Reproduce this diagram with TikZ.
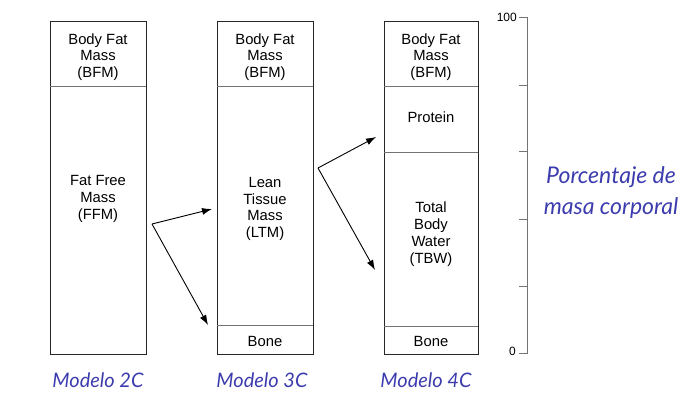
\documentclass[tikz,border=0pt]{standalone}
\usepackage{fontspec}
\setmainfont{Liberation Sans}
\newfontfamily\handfont{Lato Italic}
\usetikzlibrary{arrows.meta}
\definecolor{hand}{RGB}{60,60,175}
\begin{document}
\begin{tikzpicture}[x=1pt,y=-1pt,
  col/.style={draw=black!85,line width=0.9pt},
  divider/.style={draw=black!55,line width=0.6pt},
  lbl/.style={align=center,font=\fontsize{14.8}{16.8}\selectfont,inner sep=0pt},
  hlbl/.style={font=\handfont\fontsize{20}{22}\selectfont,text=hand,inner sep=0pt},
  plbl/.style={font=\handfont\fontsize{23}{25}\selectfont,text=hand,inner sep=0pt},
  arr/.style={draw=black,line width=0.9pt,-{Latex[length=10pt,width=7pt]}},
  tick/.style={draw=black!55,line width=0.6pt}]
\useasboundingbox (0,0) rectangle (699,395);
% columns
\draw[col] (50,21) rectangle (146,354);
\draw[divider] (50,86) -- (146,86);
\draw[col] (217,21) rectangle (313,354);
\draw[divider] (217,86) -- (313,86);
\draw[divider] (217,325) -- (313,325);
\draw[col] (384,21) rectangle (478,354);
\draw[divider] (384,86) -- (478,86);
\draw[divider] (384,152) -- (478,152);
\draw[divider] (384,326) -- (478,326);
% texts
\node[lbl] (bfm1) at (98,57) {Body Fat\\Mass\\(BFM)};
\node[lbl] (ffm) at (98,199) {Fat Free\\Mass\\(FFM)};
\node[lbl] (bfm2) at (265,57) {Body Fat\\Mass\\(BFM)};
\node[lbl] (ltm) at (265,209) {Lean\\Tissue\\Mass\\(LTM)};
\node[lbl] (bone2) at (265,341) {Bone};
\node[lbl] (bfm3) at (431,57) {Body Fat\\Mass\\(BFM)};
\node[lbl] (prot) at (431,117) {Protein};
\node[lbl] (tbw) at (431,234) {Total\\Body\\Water\\(TBW)};
\node[lbl] (bone3) at (431,341) {Bone};
% arrows
\coordinate (s1) at (152,224);
\coordinate (e1a) at (212,209);
\coordinate (e1b) at (208,325);
\draw[arr] (s1) -- (e1a);
\draw[arr] (s1) -- (e1b);
\coordinate (s2) at (318,168);
\coordinate (e2a) at (376,137);
\coordinate (e2b) at (375,270);
\draw[arr] (s2) -- (e2a);
\draw[arr] (s2) -- (e2b);
% axis
\draw[tick] (527,17) -- (527,354);
\foreach \yy in {17,85,151,219,286,353} \draw[tick] (519,\yy) -- (527,\yy);
\node[font=\fontsize{12}{12}\selectfont,anchor=east,inner sep=0pt] (a100) at (517,17) {100};
\node[font=\fontsize{12}{12}\selectfont,anchor=east,inner sep=0pt] (a0) at (516,351) {0};
% handwritten labels
\node[plbl] (pc1) at (611,177) {Porcentaje de};
\node[plbl] (pc2) at (611,208) {masa corporal};
\node[hlbl] (m2) at (98,380) {Modelo 2C};
\node[hlbl] (m3) at (262,380) {Modelo 3C};
\node[hlbl] (m4) at (426,380) {Modelo 4C};
\end{tikzpicture}
\end{document}
